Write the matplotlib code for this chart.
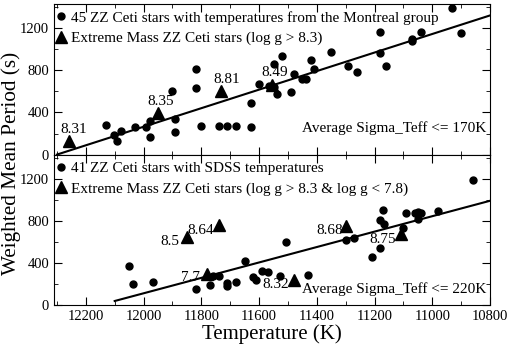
import matplotlib
matplotlib.use("Agg")
import matplotlib.pyplot as plt
from matplotlib.ticker import MultipleLocator

plt.rcParams['font.family'] = ['Liberation Serif', 'DejaVu Serif']

# upper panel: Montreal temperatures
mont_T = [12129, 12102, 12091, 12079, 12030, 11990, 11978, 11978, 11900, 11891,
          11891, 11819, 11819, 11800, 11740, 11710, 11680, 11628, 11628, 11599,
          11566, 11549, 11550, 11520, 11539, 11491, 11479, 11450, 11438, 11421,
          11409, 11350, 11291, 11261, 11181, 11181, 11160, 11070, 11070, 11040,
          10931, 10901]
mont_P = [277, 185, 131, 223, 261, 258, 318, 163, 605, 337,
          213, 811, 637, 273, 270, 270, 273, 258, 486, 675,
          650, 645, 859, 937, 580, 593, 764, 723, 723, 903,
          818, 972, 842, 786, 1165, 970, 842, 1102, 1077, 1165,
          1393, 1159]
mont_ext_T = [12257, 11949, 11731, 11555]
mont_ext_P = [128, 397, 605, 660]
mont_ext_lab = ['8.31', '8.35', '8.81', '8.49']
mont_fit_T = [12300, 10800]
mont_fit_P = [0, 1323]

# lower panel: SDSS temperatures
sdss_T = [12051, 12035, 11966, 11819, 11769, 11758, 11740, 11710, 11710, 11680,
          11650, 11621, 11609, 11589, 11570, 11529, 11508, 11430, 11299, 11270,
          11208, 11181, 11181, 11172, 11169, 11100, 11090, 11061, 11050, 11038,
          11050, 10980, 10860]
sdss_P = [374, 198, 218, 154, 192, 272, 278, 208, 182, 218,
          422, 266, 240, 320, 310, 278, 602, 281, 614, 633,
          454, 544, 809, 905, 768, 736, 870, 873, 886, 873,
          822, 890, 1190]
sdss_ext_T = [11851, 11740, 11781, 11479, 11299, 11108]
sdss_ext_P = [646, 758, 298, 240, 752, 672]
sdss_ext_lab = ['8.5', '8.64', '7.7', '8.32', '8.68', '8.75']
sdss_fit_T = [12100, 10800]
sdss_fit_P = [38, 991]

mont_offsets = [(3, 8), (1.5, 8), (4, 8), (2, 9)]
sdss_offsets = [(-12, -3.5), (-13, -4), (-12, -3), (-13, -3.5), (-12, -3.5), (-13, -3.5)]

fig, (ax1, ax2) = plt.subplots(2, 1, sharex=True, figsize=(5.1, 3.46), dpi=100)
fig.subplots_adjust(left=0.106, right=0.961, top=0.988, bottom=0.1185, hspace=0)


def panel(ax, T, P, eT, eP, labs, offs, fT, fP, lab1, lab2, note, note_y):
    ax.plot(T, P, 'o', color='black', markersize=5, label=lab1)
    ax.plot(eT, eP, '^', color='black', markersize=8.5, label=lab2)
    ax.plot(fT, fP, '-', color='black', lw=1.5)
    for t, p, s, o in zip(eT, eP, labs, offs):
        ax.annotate(s, (t, p), xytext=o, textcoords='offset points',
                    ha='center', va='center', fontsize=11)
    ax.text(0.992, note_y, note, transform=ax.transAxes, ha='right', va='center',
            fontsize=11)
    ax.legend(loc='upper left', bbox_to_anchor=(-0.008, 0.975), frameon=False,
              fontsize=11, handletextpad=0.25, borderaxespad=0, borderpad=0.2,
              labelspacing=0.45, handlelength=0.9)
    ax.set_ylim(0, 1430)
    ax.yaxis.set_major_locator(MultipleLocator(400))
    ax.yaxis.set_minor_locator(MultipleLocator(200))
    ax.xaxis.set_major_locator(MultipleLocator(200))
    ax.xaxis.set_minor_locator(MultipleLocator(100))
    ax.tick_params(which='both', direction='in', top=True, right=True,
                   labelsize=10.5)
    ax.tick_params(which='major', length=6)
    ax.tick_params(which='minor', length=3)


panel(ax1, mont_T, mont_P, mont_ext_T, mont_ext_P, mont_ext_lab, mont_offsets,
      mont_fit_T, mont_fit_P,
      '45 ZZ Ceti stars with temperatures from the Montreal group',
      'Extreme Mass ZZ Ceti stars (log g > 8.3)',
      'Average Sigma_Teff <= 170K', 0.173)
panel(ax2, sdss_T, sdss_P, sdss_ext_T, sdss_ext_P, sdss_ext_lab, sdss_offsets,
      sdss_fit_T, sdss_fit_P,
      '41 ZZ Ceti stars with SDSS temperatures',
      'Extreme Mass ZZ Ceti stars (log g > 8.3 & log g < 7.8)',
      'Average Sigma_Teff <= 220K', 0.105)

ax2.set_xlim(12310, 10800)
ax2.set_xlabel('Temperature (K)', fontsize=15, labelpad=1)
fig.text(0.002, 0.527, 'Weighted Mean Period (s)', rotation=90, fontsize=15.3,
         ha='left', va='center')

fig.savefig('out.png', dpi=100)
